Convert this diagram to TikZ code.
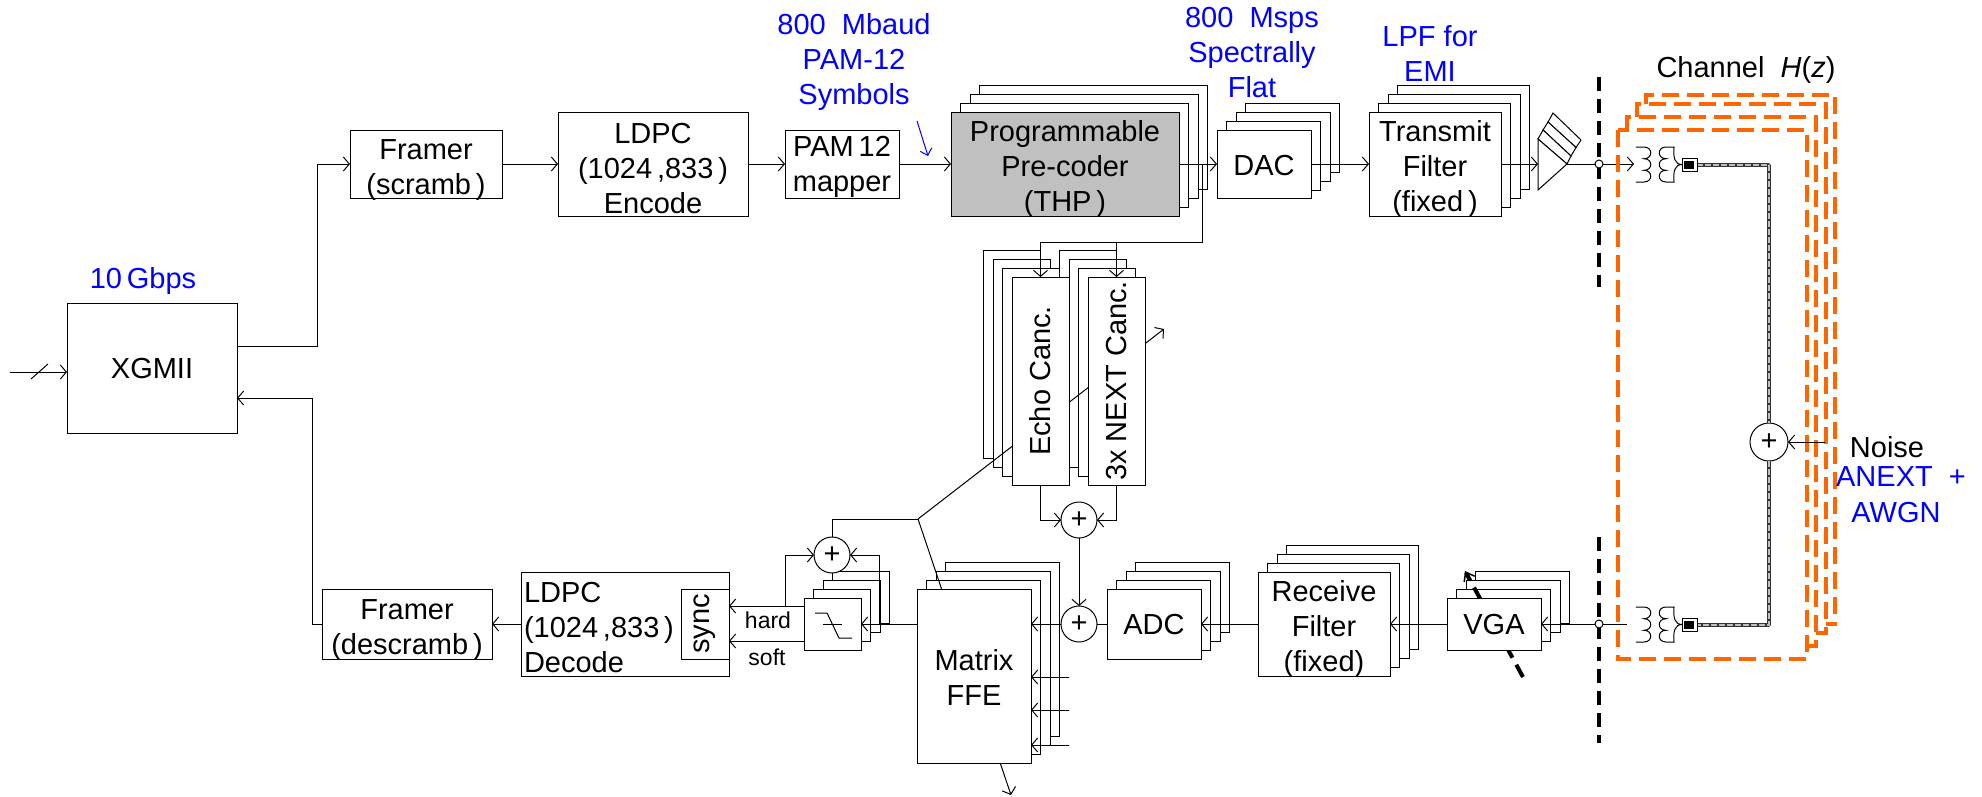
\documentclass[tikz,border=0pt]{standalone}
\usepackage{fontspec}
\usepackage{graphicx}
\setmainfont{Liberation Sans}
\usetikzlibrary{arrows.meta}
\definecolor{oran}{HTML}{FF6600}
\definecolor{blu}{HTML}{0000FF}
\tikzset{
  lw/.style={line width=1pt},
  box/.style={draw,lw,fill=white,rectangle,inner sep=0pt,outer sep=0pt},
  layer/.style={draw,lw,fill=white},
  arr/.style={lw,-{Straight Barb[length=6pt,width=14pt,line width=1pt]}},
  txt/.style={inner sep=0pt,outer sep=0pt,align=center,font=\fontsize{29}{35}\selectfont},
  btxt/.style={txt,text=blu},
  small/.style={inner sep=0pt,font=\fontsize{23}{28}\selectfont},
  sumc/.style={draw,lw,fill=white,circle,minimum size=36pt,inner sep=0pt,outer sep=0pt,font=\fontsize{29}{35}\selectfont},
  tap/.style={draw,lw,fill=white,circle,minimum size=8pt,inner sep=0pt},
  orange dash/.style={draw=oran,line width=4pt,dash pattern=on 17pt off 8pt},
  bigdash/.style={line width=4pt,dash pattern=on 14pt off 8pt},
  twist/.style={line width=3.6pt,black!80,line join=round},
  twistb/.style={line width=1.3pt,black!25,dash pattern=on 6pt off 2pt,line join=round},
  coil/.style={lw,line cap=round}
}
\newcommand{\layers}[5][1]{%
  \foreach \i in {3,2,1}{%
    \path[layer] ({#2+#1*\i*9.5},{#3-\i*8.7}) rectangle ({#4+#1*\i*9.5},{#5-\i*8.7});
  }}
% [box options]{name}{x1}{y1}{x2}{y2}{text shift}{text}
\newcommand{\frontbox}[8][]{%
  \node[box,#1,minimum width={(#5-#3)*1pt},minimum height={(#6-#4)*1pt}] (#2) at ({(#3+#5)/2},{(#4+#6)/2}) {};
  \node[txt] (#2-t) at ({(#3+#5)/2},{(#4+#6)/2+#7}) {#8};}
\newcommand{\xfmr}[1]{%
  \draw[coil] (1636,#1) -- (1644,#1)
    .. controls (1653,#1) and (1653,#1+11.7) .. (1644,#1+11.7)
    .. controls (1653,#1+11.7) and (1653,#1+23.3) .. (1644,#1+23.3)
    .. controls (1653,#1+23.3) and (1653,#1+35) .. (1644,#1+35) -- (1636,#1+35);
  \draw[coil] (1674,#1) -- (1666,#1)
    .. controls (1657,#1) and (1657,#1+11.7) .. (1666,#1+11.7)
    .. controls (1657,#1+11.7) and (1657,#1+23.3) .. (1666,#1+23.3)
    .. controls (1657,#1+23.3) and (1657,#1+35) .. (1666,#1+35) -- (1674,#1+35);
  \draw[coil] (1674,#1) .. controls (1673,#1+11) and (1675,#1+17.5) .. (1682,#1+17.5)
    .. controls (1675,#1+17.5) and (1673,#1+24) .. (1674,#1+35);
  \draw[lw,fill=white] (1682,#1+11) rectangle (1697,#1+24);
  \fill[black] (1684,#1+13.5) rectangle (1694,#1+21.5);}
\begin{document}
\begin{tikzpicture}[x=1pt,y=-1pt]
\useasboundingbox (0,0) rectangle (1982,796);

% stacked layers, back to front
\layers{951}{112}{1179}{216}
\layers{1217}{130}{1311}{199}
\layers{1369}{112}{1501}{216}
\layers[-1]{1012}{277}{1069}{485}
\layers[-1]{1088}{277}{1145}{485}
\layers{917}{589}{1031}{763}
\layers{1107}{589}{1201}{659}
\layers{1258}{572}{1390}{676}
\layers{1447}{598}{1541}{650}
\layers{804}{598}{861}{650}

% diagonal control lines, under the front boxes
\coordinate (yj) at (918,519);
\coordinate (nextout) at (1164,329);
\coordinate (ffeout) at (1011,795);
\draw[arr] (yj) -- (nextout);
\draw[arr] (yj) -- (ffeout);
\coordinate (vgab) at (1523,677);
\coordinate (vgat) at (1465,571);
\draw[bigdash,-{Straight Barb[length=8pt,width=12pt,line width=1.5pt]}] (vgab) -- (vgat);

% front boxes
\frontbox{xg}{67}{303}{237}{433}{1}{XGMII}
\frontbox{fs}{350}{130}{502}{198}{6}{Framer\\(scramb\,)}
\frontbox{le}{558}{112}{748}{216}{5}{LDPC\\(1024\,,833\,)\\Encode}
\frontbox{pm}{785}{130}{899}{198}{3}{PAM\,12\\mapper}
\frontbox[fill={rgb,255:red,192;green,192;blue,192}]{pre}{951}{112}{1179}{216}{5}{Programmable\hspace{10pt}\\Pre-coder\\(THP\,)}
\frontbox{dac}{1217}{130}{1311}{198}{1.5}{DAC}
\frontbox{tx}{1369}{112}{1501}{216}{5}{Transmit\hspace{7pt}\\Filter\\(fixed\,)}
\frontbox{echo}{1012}{277}{1069}{485}{0}{\rotatebox{90}{Echo Canc.}}
\frontbox{next}{1088}{277}{1145}{485}{0}{\rotatebox{90}{3x NEXT Canc.}}
\frontbox{ffe}{917}{589}{1031}{763}{1}{Matrix\\FFE}
\frontbox{adc}{1107}{589}{1201}{659}{1}{ADC}
\frontbox{rx}{1258}{572}{1390}{676}{5}{Receive\\Filter\\(fixed)}
\frontbox{vga}{1447}{598}{1541}{650}{1}{VGA}
\frontbox{slc}{804}{598}{861}{650}{0}{}
\frontbox{fd}{322}{589}{492}{659}{6}{Framer\\(descramb\,)}
\frontbox{ld}{521}{572}{729}{676}{0}{}
\frontbox{syn}{681}{589}{729}{659}{0}{\rotatebox{90}{sync}}
\node[txt,anchor=west,align=left] (ldt) at (524,627.5) {LDPC\\(1024\,,833\,)\\Decode};

% slicer symbol
\draw[lw] (815,613) -- (827,613) -- (839,638) -- (852,638);
\draw[lw] (823,624) -- (842,624);

% driver triangles
\coordinate (apex) at (1567,164);
\coordinate (tril) at (1538,164);
\draw[lw,fill=white] (1553,113) -- (1581,140) -- (1576,147.5) -- (1548,122) -- cycle;
\draw[lw,fill=white] (1548,122) -- (1576,147.5) -- (1571,156) -- (1543,130) -- cycle;
\draw[lw,fill=white] (1543,130) -- (1571,156) -- (1567,164) -- (1538,139) -- cycle;
\draw[lw,fill=white] (1538,139) -- (1567,164) -- (1538,190) -- cycle;

% summing nodes
\node[sumc] (sa) at (832,555) {\raisebox{-3pt}{+}};
\node[sumc] (sb) at (1079,520) {\raisebox{-2pt}{+}};
\node[sumc] (sc) at (1079,624) {\raisebox{-3pt}{+}};
\node[sumc,minimum size=38pt] (sd) at (1769,442) {\raisebox{-7pt}{+}};

% top chain
\coordinate (inp) at (10,372);
\coordinate (xgin) at (67,372);
\coordinate (t1) at (31,379);
\coordinate (t2) at (48,364);
\draw[arr] (inp) -- (xgin);
\draw[lw] (t1) -- (t2);
\coordinate (xo) at (237,346);
\coordinate (up) at (317,164);
\draw[arr] (xo) -| (up) -- (fs.west);
\draw[arr] (fs.east) -- (le.west);
\draw[arr] (le.east) -- (pm.west);
\draw[arr] (pm.east) -- (pre.west);
\draw[arr] (pre.east) -- (dac.west);
\draw[arr] (dac.east) -- (tx.west);
\draw[arr] (tx.east) -- (tril);
\coordinate (j1) at (1202,164);
\coordinate (j2) at (1202,242);
\draw[arr] (j1) -- (j2) -| (echo.north);
\draw[arr] (next.north |- j2) -- (next.north);
\draw[arr] (echo.south) |- (sb.west);
\draw[arr] (next.south) |- (sb.east);
\draw[arr] (sb.south) -- (sc.north);

% bottom chain
\coordinate (xgret) at (237,398);
\coordinate (rt) at (312,398);
\draw[arr] (fd.west) -| (rt) -- (xgret);
\draw[arr] (ld.west) -- (fd.east);
\coordinate (hardr) at (804,606);
\coordinate (softr) at (804,641);
\draw[arr] (hardr) -- (syn.east |- hardr);
\draw[arr] (softr) -- (syn.east |- softr);
\coordinate (hj) at (785,606);
\draw[arr] (hj) |- (sa.west);
\coordinate (sj) at (879,624);
\draw[arr] (sj) |- (sa.east);
\draw[lw] (sa.north) |- (yj);
\draw[arr] (ffe.west |- slc.east) -- (slc.east);
\draw[arr] (sc.west) -- (ffe.east |- sc.west);
\coordinate (f1) at (1069,677);
\coordinate (f2) at (1069,710);
\coordinate (f3) at (1069,745);
\draw[arr] (f1) -- (ffe.east |- f1);
\draw[arr] (f2) -- (ffe.east |- f2);
\draw[arr] (f3) -- (ffe.east |- f3);
\draw[lw] (adc.west) -- (sc.east);
\draw[arr] (rx.west) -- (adc.east);
\draw[arr] (vga.west) -- (rx.east);
\coordinate (xlo) at (1627,624);
\draw[arr] (xlo) -- (vga.east);
\coordinate (xhi) at (1634,164);
\draw[arr] (apex) -- (xhi);

% channel boundary and shields
\coordinate (cb1) at (1599,77);
\coordinate (cb2) at (1599,287);
\coordinate (cb3) at (1599,537);
\coordinate (cb4) at (1599,743);
\draw[bigdash] (cb1) -- (cb2);
\draw[bigdash] (cb3) -- (cb4);
\node[tap] (t3) at (1599,164) {};
\node[tap] (t4) at (1599,624) {};

\draw[orange dash] (1646,104) -- (1646,95) -- (1835,95) -- (1835,624) -- (1826,624);
\draw[orange dash] (1637,117) -- (1637,104) -- (1826,104) -- (1826,633) -- (1816,633);
\draw[orange dash] (1627,130) -- (1627,117) -- (1816,117) -- (1816,646) -- (1807,646);
\draw[orange dash] (1618,130) rectangle (1807,659);

% transformers and twisted pair
\coordinate (pt1) at (1697,165);
\coordinate (pt2) at (1769,165);
\coordinate (pt3) at (1769,625);
\coordinate (pt4) at (1697,625);
\draw[twist] (pt1) -- (pt2) -- (sd.north);
\draw[twistb] (pt1) -- (pt2) -- (sd.north);
\draw[twist] (sd.south) -- (pt3) -- (pt4);
\draw[twistb] (sd.south) -- (pt3) -- (pt4);
\xfmr{147}
\xfmr{607}
\coordinate (noise) at (1825,442);
\draw[arr] (noise) -- (sd.east);

% labels
\node[btxt] (l1) at (143,281) {10\,Gbps};
\node[btxt] (l2) at (854,62) {800\ \ Mbaud\\PAM-12\\Symbols};
\coordinate (ba1) at (917,121);
\coordinate (ba2) at (928,156);
\draw[blu,lw,-{Straight Barb[length=6pt,width=12pt,line width=1pt]}] (ba1) -- (ba2);
\node[btxt] (l3) at (1252,53) {800\ \ Msps\\Spectrally\\Flat};
\node[btxt] (l4) at (1430,54) {LPF for\\EMI};
\node[txt] (l5) at (1746,70) {Channel\ \ \textit{H}(\textit{z})};
\node[txt] (l6) at (1887,447) {Noise};
\node[btxt] (l7) at (1901,477) {ANEXT\ \ +};
\node[btxt] (l8) at (1896,513) {AWGN};
\node[small] (l9) at (768,620) {hard};
\node[small] (l10) at (767,657) {soft};
\end{tikzpicture}
\end{document}
